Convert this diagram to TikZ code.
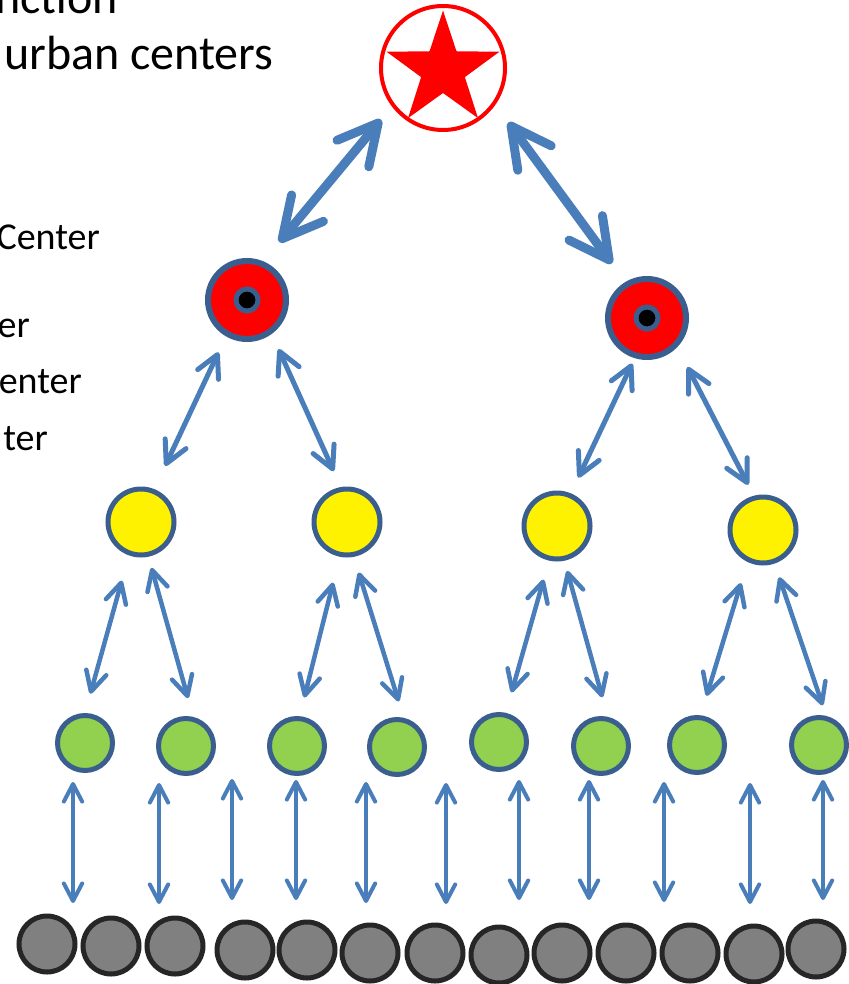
\documentclass[tikz,border=0pt]{standalone}
\usepackage{fontspec}
\setmainfont{Carlito}
\usetikzlibrary{arrows.meta,calc}

\definecolor{linkblue}{HTML}{4A7EBB}
\definecolor{rimblue}{HTML}{3A5F8F}
\definecolor{leafgreen}{HTML}{92D050}
\definecolor{rimdark}{HTML}{262626}
\definecolor{stonegray}{HTML}{808080}

\begin{document}
\begin{tikzpicture}[x=1pt,y=1pt,
  capital/.style={circle, draw=red, line width=4pt, fill=white, minimum size=124pt, inner sep=0pt},
  region/.style={circle, draw=rimblue, line width=6pt, fill=red, minimum size=78pt, inner sep=0pt},
  core/.style={circle, draw=rimblue, line width=5pt, fill=black, minimum size=22pt, inner sep=0pt},
  district/.style={circle, draw=rimblue, line width=5pt, fill=yellow, minimum size=66pt, inner sep=0pt},
  town/.style={circle, draw=rimblue, line width=5pt, fill=leafgreen, minimum size=55pt, inner sep=0pt},
  village/.style={circle, draw=rimdark, line width=5pt, fill=stonegray, minimum size=56pt, inner sep=0pt},
  link/.style={draw=linkblue, line cap=round,
    >={Straight Barb[length=0pt 4.4, width=0pt 4.6, round]}, <->},
  bigarrow/.style={link, line width=9pt},
  midarrow/.style={link, line width=5pt},
  smallarrow/.style={link, line width=4.5pt},
  droparrow/.style={link, line width=4pt},
  label/.style={inner sep=0pt, anchor=base east, font=\fontsize{38}{46}\selectfont},
  title/.style={inner sep=0pt, font=\fontsize{48}{58}\selectfont}
]
\useasboundingbox (0,0) rectangle (848,-984);
\fill[white] (0,0) rectangle (848,-984);

% headings and level names along the left edge
\node[title, anchor=base east] (t1) at (118,-14) {nction};
\node[title, anchor=base west] (t2) at (4,-70) {urban centers};
\node[label] (l1) at (100,-250) {Center};
\node[label] (l2) at (30,-337) {er};
\node[label] (l3) at (82,-393) {enter};
\node[label] (l4) at (48,-450) {ter};

% capital
\node[capital] (cap) at (443,-68) {};
\coordinate (sc) at (443,-70);
\fill[red, rounded corners=0.6pt] ($(sc)+(90:59.5)$)
  \foreach \i in {0,...,4} { -- ($(sc)+(126+72*\i:23)$) -- ($(sc)+(162+72*\i:59.5)$) } -- cycle;

% regional centres
\node[region] (r1) at (247,-300) {};
\node[core] at (r1) {};
\node[region] (r2) at (647,-318) {};
\node[core] at (r2) {};

% district centres
\node[district] (y1) at (141,-522) {};
\node[district] (y2) at (347,-522) {};
\node[district] (y3) at (557,-526) {};
\node[district] (y4) at (763,-530) {};

% towns
\node[town] (g1) at (85,-743) {};
\node[town] (g2) at (186,-746) {};
\node[town] (g3) at (297,-746) {};
\node[town] (g4) at (397,-747) {};
\node[town] (g5) at (499,-742) {};
\node[town] (g6) at (601,-746) {};
\node[town] (g7) at (697,-745) {};
\node[town] (g8) at (819,-745) {};

% villages
\foreach \n/\x/\y in {1/47/944, 2/111/946, 3/175/946, 4/245/950, 5/307/950,
                      6/370/953, 7/435/953, 8/499/955, 9/562/953, 10/626/953,
                      11/690/953, 12/754/954, 13/816/949}
  \node[village] (v\n) at (\x,-\y) {};

% capital <-> regional
\draw[bigarrow, shorten <=17pt, shorten >=25pt] (cap.217) -- (r1.67.6);
\draw[bigarrow, shorten <=22pt, shorten >=23pt] (cap.325.4) -- (r2.121.7);

% regional <-> district
\draw[midarrow, shorten <=17.6pt, shorten >=25.6pt] (r1.240.9) -- (y1.68.9);
\draw[midarrow, shorten <=16.6pt, shorten >=17.4pt] (r1.306.7) -- (y2.100.9);
\draw[midarrow, shorten <=6pt, shorten >=17.4pt] (r2.253.1) -- (y3.67.8);
\draw[midarrow, shorten <=22.4pt, shorten >=12.3pt] (r2.316.9) -- (y4.105.8);

% district <-> town
\draw[smallarrow, shorten <=26.2pt, shorten >=20pt] (y1.250.1) -- (g1.90);
\draw[smallarrow, shorten <=11.6pt, shorten >=19.5pt] (y1.282.3) -- (g2.76);
\draw[smallarrow, shorten <=26.7pt, shorten >=19.2pt] (y2.258.9) -- (g3.85.3);
\draw[smallarrow, shorten <=16.5pt, shorten >=17.1pt] (y2.281.1) -- (g4.77.7);
\draw[smallarrow, shorten <=19.8pt, shorten >=21.2pt] (y3.257.5) -- (g5.77.6);
\draw[smallarrow, shorten <=10.6pt, shorten >=20.2pt] (y3.282.5) -- (g6.77.3);
\draw[smallarrow, shorten <=22.2pt, shorten >=20.3pt] (y4.244.3) -- (g7.83.2);
\draw[smallarrow, shorten <=14.5pt, shorten >=11.2pt] (y4.289.9) -- (g8.76);

% town <-> village exchange
\foreach \k/\x/\t/\b in {1/73/782/903, 2/159/783/904, 3/232/779/900, 4/296/780/900,
                         5/366/782/903, 6/446/783/904, 7/519/780/900, 8/589/780/900,
                         9/664/782/902, 10/750/783/904, 11/823/780/900} {
  \coordinate (up\k) at (\x,-\t);
  \coordinate (dn\k) at (\x,-\b);
  \draw[droparrow] (up\k) -- (dn\k);
}
\end{tikzpicture}
\end{document}
